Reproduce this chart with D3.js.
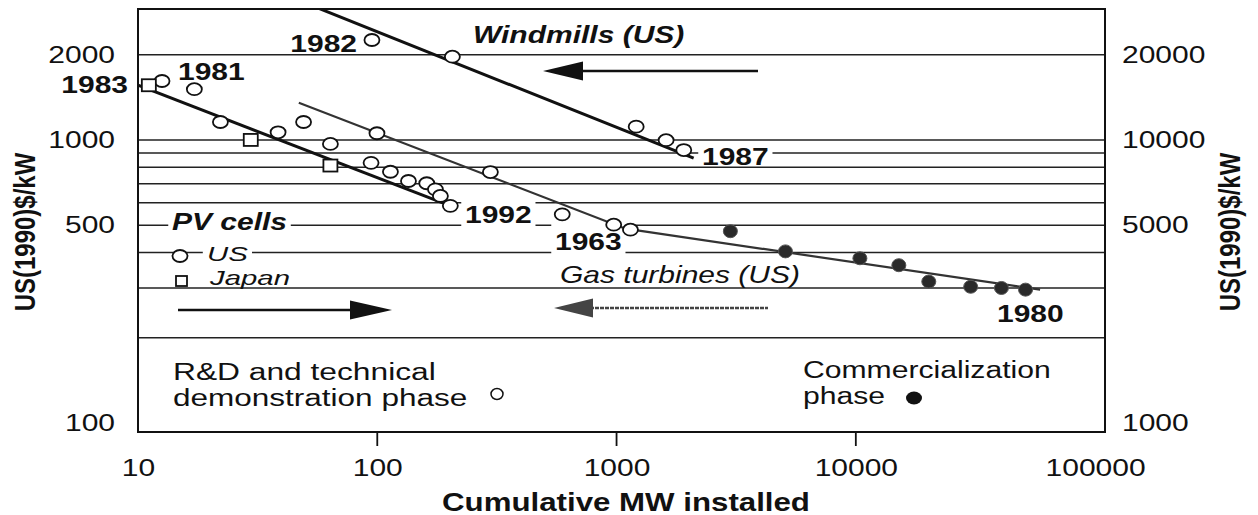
<!DOCTYPE html>
<html><head><meta charset="utf-8">
<script src="https://cdn.jsdelivr.net/npm/d3@7"></script>
<style>
body{margin:0;background:#fff}
svg text{font-family:"Liberation Sans",Arial,Helvetica,sans-serif;fill:#111}
</style>
</head><body>
<svg id="c" width="1258" height="515"></svg>
<script>
// ---- data ----
const xTickLabels = [10, 100, 1000, 10000, 100000];
const xTickMarks = [100, 1000, 10000];
const yTicksLeft = [100, 500, 1000, 2000];
const yTicksRight = [1000, 5000, 10000, 20000];
const gridValues = [200, 300, 400, 500, 600, 700, 800, 900, 1000, 2000];

// PV cells, US (open circles)
const pvUS = [[12.6,1615],[17.2,1511],[22.1,1157],[38.5,1064],[49.2,1157],[63.7,968],
  [94.2,830],[113.5,772],[135,716],[161,703],[175,669],[183.6,634],[202,585]];
// PV cells, Japan (squares)
const pvJapan = [[11.1,1560],[29.6,1000],[63.7,812]];
// Windmills (US)
const windmills = [[95,2254],[206,1968],[1208,1114],[1611,998],[1910,921]];
// Gas turbines (US): R&D phase (open) and commercialization phase (filled)
const gasRD = [[99.7,1056],[297,770],[593,546],[973,502],[1143,482]];
const gasCommercial = [[2990,476],[5080,404],[10400,382],[15130,361],[20180,316],[30200,303],[40600,300],[51200,296]];
// fitted learning curves
const pvFit = [[10,1560],[196,591]];
const windFit = [[55,2950],[2100,862]];
const gasFit = [[47,1353],[1090,486],[58900,296]];

// ---- layout ----
const svg = d3.select("#c");
const x = d3.scaleLog().domain([10, 110000]).range([138, 1105]);
const y = d3.scaleLog().domain([93, 2900]).range([432, 9]);
const yR = d3.scaleLog().domain([930, 29000]).range([432, 9]);
const SX = 1.25;
const ink = "#111";

const [x0, x1] = x.range();
const [yb, yt] = y.range();

svg.append("defs").append("clipPath").attr("id","plot")
  .append("rect").attr("x",x0).attr("y",yt).attr("width",x1-x0).attr("height",yb-yt);

// gridlines
svg.append("g").selectAll("line").data(gridValues).join("line")
  .attr("x1",x0).attr("x2",x1).attr("y1",d=>y(d)).attr("y2",d=>y(d))
  .attr("stroke","#222").attr("stroke-width",1.5);

const bgLayer = svg.append("g");
const lineLayer = svg.append("g").attr("clip-path","url(#plot)");
const markLayer = svg.append("g");
const textLayer = svg.append("g");

function txt(str, px, py, o = {}) {
  const sx = o.sx || SX;
  const size = o.size || 24;
  const t = textLayer.append("text")
    .attr("transform", `translate(${px},${py}) scale(${sx},1)`)
    .attr("text-anchor", o.anchor || "start")
    .style("font-size", size + "px")
    .style("font-weight", o.bold ? "bold" : "normal")
    .style("font-style", o.italic ? "italic" : "normal")
    .text(str);
  if (o.bg) {
    const b = t.node().getBBox();
    bgLayer.append("rect")
      .attr("transform", `translate(${px},${py}) scale(${sx},1)`)
      .attr("x", b.x - 3).attr("y", -o.bg[0]).attr("width", b.width + 6)
      .attr("height", o.bg[0] + o.bg[1]).attr("fill", "#fff");
  }
  return t;
}

// fitted lines
const line = d3.line().x(d => x(d[0])).y(d => y(d[1]));
lineLayer.append("path").datum(pvFit).attr("d", line).attr("fill","none").attr("stroke",ink).attr("stroke-width",3);
lineLayer.append("path").datum(windFit).attr("d", line).attr("fill","none").attr("stroke",ink).attr("stroke-width",3);
lineLayer.append("path").datum(gasFit).attr("d", line).attr("fill","none").attr("stroke","#333").attr("stroke-width",2.2);

// markers
function openCircles(data){
  markLayer.append("g").selectAll("ellipse").data(data).join("ellipse")
    .attr("cx",d=>x(d[0])).attr("cy",d=>y(d[1])).attr("rx",7.5).attr("ry",6)
    .attr("fill","#fff").attr("stroke",ink).attr("stroke-width",1.8);
}
openCircles(pvUS);
openCircles(windmills);
openCircles(gasRD);
markLayer.append("g").selectAll("rect").data(pvJapan).join("rect")
  .attr("x",d=>x(d[0])-7).attr("y",d=>y(d[1])-6).attr("width",14).attr("height",12)
  .attr("fill","#fff").attr("stroke",ink).attr("stroke-width",1.8);
markLayer.append("g").selectAll("ellipse").data(gasCommercial).join("ellipse")
  .attr("cx",d=>x(d[0])).attr("cy",d=>y(d[1])).attr("rx",7).attr("ry",6.5)
  .attr("fill","#2a2a2a").attr("stroke","#555").attr("stroke-width",1);

// axes
const axB = svg.append("g").attr("transform",`translate(0,${yb})`)
  .call(d3.axisBottom(x).tickValues(xTickLabels).tickFormat(d3.format("d")).tickSize(0).tickPadding(27));
axB.select(".domain").remove();
axB.selectAll("text").attr("transform",`scale(${SX},1)`).style("font-size","24px").style("fill",ink);

svg.append("g").selectAll("line").data(xTickMarks).join("line")
  .attr("x1",d=>x(d)).attr("x2",d=>x(d)).attr("y1",yb).attr("y2",yb+14)
  .attr("stroke",ink).attr("stroke-width",1.8);

const axL = svg.append("g").attr("transform","translate(115,0)")
  .call(d3.axisLeft(y).tickValues(yTicksLeft).tickFormat(d3.format("d")).tickSize(0).tickPadding(0));
axL.select(".domain").remove();
axL.selectAll("text").attr("transform",`scale(${SX},1)`).style("font-size","24px").style("fill",ink);

const axR = svg.append("g").attr("transform","translate(1122,0)")
  .call(d3.axisRight(yR).tickValues(yTicksRight).tickFormat(d3.format("d")).tickSize(0).tickPadding(0));
axR.select(".domain").remove();
axR.selectAll("text").attr("transform",`scale(${SX},1)`).style("font-size","24px").style("fill",ink);

// axis titles
textLayer.append("text").attr("transform",`translate(626,511) scale(${SX},1)`)
  .attr("text-anchor","middle").style("font-size","25px").style("font-weight","bold")
  .text("Cumulative MW installed");
textLayer.append("text").attr("transform","translate(35,232) rotate(-90) scale(1,1.25)")
  .attr("text-anchor","middle").style("font-size","24px").style("font-weight","bold")
  .text("US(1990)$/kW");
textLayer.append("text").attr("transform","translate(1240,232) rotate(-90) scale(1,1.25)")
  .attr("text-anchor","middle").style("font-size","24px").style("font-weight","bold")
  .text("US(1990)$/kW");

// annotations
txt("1982", 357, 52, {bold:true, anchor:"end"});
txt("1981", 178, 80, {bold:true});
txt("1983", 128, 93, {bold:true, anchor:"end"});
txt("Windmills (US)", 473, 43, {bold:true, italic:true});
txt("1987", 702, 165, {bold:true, bg:[20,1]});
txt("1992", 465, 223, {bold:true, bg:[23,5]});
txt("1963", 555, 250, {bold:true, bg:[27,5]});
txt("1980", 997, 322, {bold:true});
txt("PV cells", 172, 230, {bold:true, italic:true, bg:[19,3]});
txt("US", 207, 261, {italic:true, size:21, sx:1.4, bg:[18,3]});
txt("Japan", 210, 285, {italic:true, size:21, sx:1.4});
txt("Gas turbines (US)", 560, 283, {italic:true, size:24});
txt("R&D and technical", 173, 380, {size:23, sx:1.38});
txt("demonstration phase", 173, 406, {size:23, sx:1.37});
txt("Commercialization", 803, 378, {size:23, sx:1.31});
txt("phase", 803, 404, {size:23, sx:1.31});

// legend markers
markLayer.append("ellipse").attr("cx",180).attr("cy",256).attr("rx",7.5).attr("ry",6)
  .attr("fill","#fff").attr("stroke",ink).attr("stroke-width",1.8);
markLayer.append("rect").attr("x",176).attr("y",276).attr("width",11).attr("height",10)
  .attr("fill","#fff").attr("stroke",ink).attr("stroke-width",1.8);
markLayer.append("ellipse").attr("cx",497).attr("cy",394).attr("rx",6).attr("ry",5.5)
  .attr("fill","#fff").attr("stroke",ink).attr("stroke-width",1.5);
markLayer.append("ellipse").attr("cx",914).attr("cy",398).attr("rx",8).attr("ry",6.5)
  .attr("fill",ink);

// arrows
function arrow(xs, xe, yy, tipX, baseX, col, dash){
  markLayer.append("line").attr("x1",xs).attr("x2",xe).attr("y1",yy).attr("y2",yy)
    .attr("stroke",col).attr("stroke-width",2.5).attr("stroke-dasharray",dash||null);
  markLayer.append("path").attr("d",`M${baseX},${yy-9.5}L${tipX},${yy}L${baseX},${yy+9.5}Z`).attr("fill",col);
}
arrow(178, 352, 310, 392, 350, ink);
arrow(580, 758, 71, 543, 583, ink);
arrow(590, 768, 308, 554, 593, "#444", "4,1");

// frame
svg.append("rect").attr("x",x0).attr("y",yt).attr("width",x1-x0).attr("height",yb-yt)
  .attr("fill","none").attr("stroke",ink).attr("stroke-width",2);
</script>
</body></html>
